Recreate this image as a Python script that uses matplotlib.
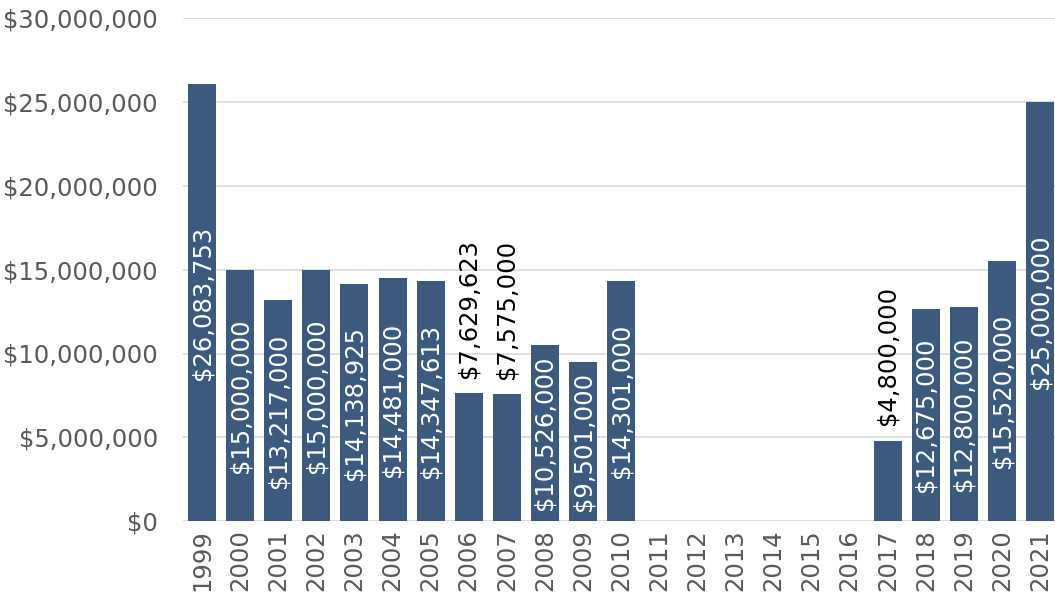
import matplotlib
matplotlib.use("Agg")
import matplotlib.pyplot as plt
from matplotlib.ticker import FuncFormatter, MultipleLocator

years = [str(y) for y in range(1999, 2022)]
values = [26083753, 15000000, 13217000, 15000000, 14138925, 14481000, 14347613,
          7629623, 7575000, 10526000, 9501000, 14301000,
          0, 0, 0, 0, 0, 0,
          4800000, 12675000, 12800000, 15520000, 25000000]
outside = ["2006", "2007", "2017"]

BAR = "#3b5a7e"
GRID = "#dcdcdc"
TXT = "#595959"
FS = 17.5

plt.rcParams['font.family'] = ['DejaVu Sans']

fig = plt.figure(figsize=(10.55, 6.06), dpi=100)
ax = fig.add_axes([0.1735, 0.140, 0.8265, 0.830])

x = list(range(len(years)))
ax.bar(x, values, width=0.735, color=BAR, zorder=3)

for xi, yr, v in zip(x, years, values):
    if v <= 0:
        continue
    lab = "${:,}".format(v)
    if yr in outside:
        ax.annotate(lab, (xi, v), xytext=(0, 11), textcoords="offset points",
                    rotation=90, ha="center", va="bottom", color="black",
                    fontsize=FS, zorder=4)
    else:
        ax.text(xi, v / 2, lab, rotation=90, ha="center", va="center",
                color="white", fontsize=FS, zorder=4)

ax.set_ylim(0, 30000000)
ax.set_xlim(-0.5, 22.39)
ax.yaxis.set_major_locator(MultipleLocator(5000000))
ax.yaxis.set_major_formatter(FuncFormatter(lambda v, p: "${:,.0f}".format(v)))
ax.set_xticks(x)
ax.set_xticklabels(years, rotation=90)
ax.tick_params(axis="y", length=0, pad=18, labelsize=FS, labelcolor=TXT)
ax.tick_params(axis="x", length=0, pad=6, labelsize=FS, labelcolor=TXT)
ax.grid(axis="y", color=GRID, linewidth=1.3, zorder=0)
for s in ax.spines.values():
    s.set_visible(False)

fig.savefig("out.png", dpi=100)
